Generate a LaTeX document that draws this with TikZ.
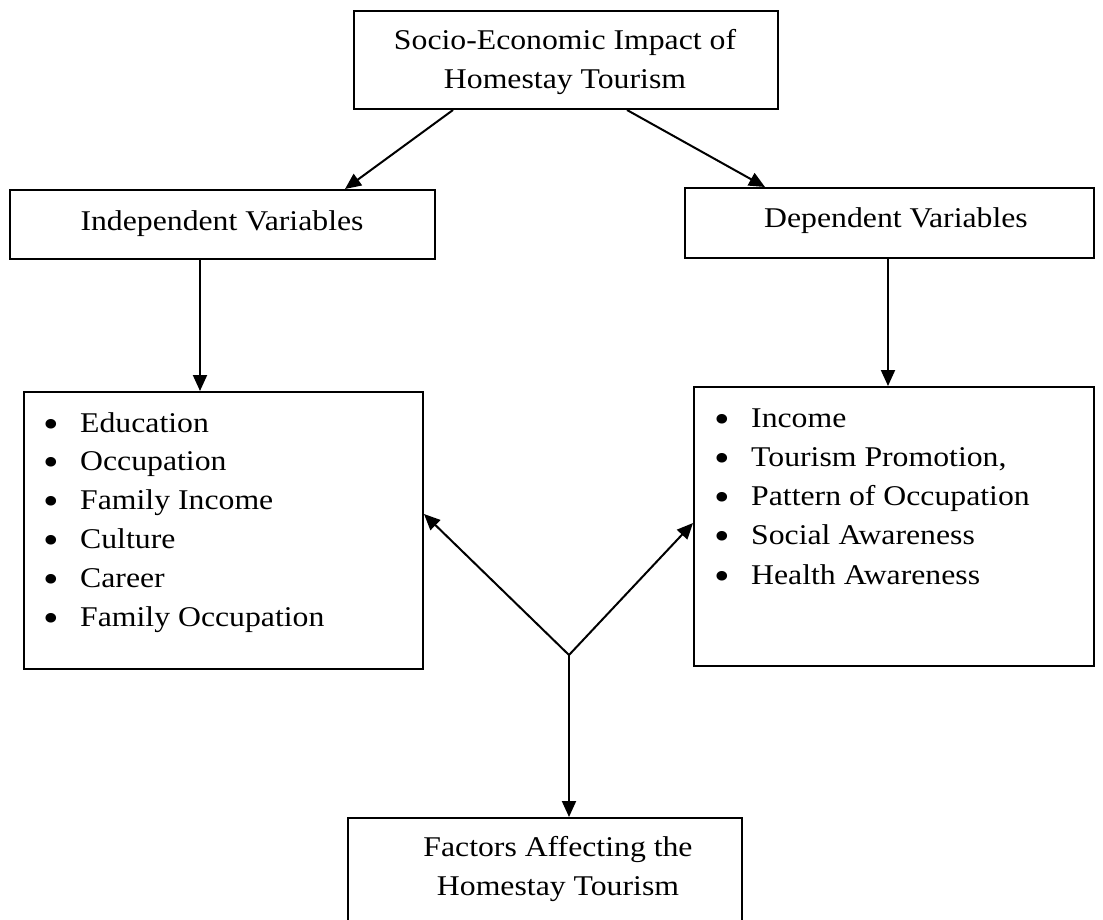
\documentclass[tikz,border=0pt]{standalone}
\usepackage{fontspec}
\setmainfont{Liberation Serif}[FakeStretch=1.11]
\usetikzlibrary{arrows.meta}
\begin{document}
\begin{tikzpicture}[x=1pt,y=-1pt,
  box/.style={draw, line width=2pt, rectangle, inner sep=0pt, anchor=north west},
  lbl/.style={font=\fontsize{28.6}{39}\selectfont, inner sep=0pt, anchor=base},
  item/.style={font=\fontsize{28.6}{39}\selectfont, inner sep=0pt, anchor=base west},
  bul/.style={font=\fontsize{40}{39}\selectfont, inner sep=0pt, anchor=base},
  conn/.style={line width=2pt, -{Triangle[length=16pt,width=14pt]}}]
\useasboundingbox (0,0) rectangle (1103,919);
% boxes
\node[box, minimum width=424pt, minimum height=98pt] (top) at (353,10) {};
\node[box, minimum width=425pt, minimum height=69pt] (ind) at (9,189) {};
\node[box, minimum width=409pt, minimum height=70pt] (dep) at (684,187) {};
\node[box, minimum width=399pt, minimum height=277pt] (indl) at (23,391) {};
\node[box, minimum width=400pt, minimum height=279pt] (depl) at (693,386) {};
\node[box, minimum width=394pt, minimum height=150pt] (fac) at (347,817) {};
% texts
\node[lbl] (t1) at (565,49) {Socio-Economic Impact of};
\node[lbl] (t2) at (565,88) {Homestay Tourism};
\node[lbl] (t3) at (222,230) {Independent Variables};
\node[lbl] (t4) at (896,227) {Dependent Variables};
\node[lbl] (t5) at (558,856) {Factors Affecting the};
\node[lbl] (t6) at (558,895) {Homestay Tourism};
\foreach \t [count=\i from 0] in {Education, Occupation, Family Income, Culture, Career, Family Occupation}{
  \node[bul] (lb\i) at (51,437+38.9*\i) {\textbullet};
  \node[item] (li\i) at (80,432+38.9*\i) {\t};
}
\foreach \t [count=\i from 0] in {Income, {Tourism Promotion,}, Pattern of Occupation, Social Awareness, Health Awareness}{
  \node[bul] (rb\i) at (722,432+39.25*\i) {\textbullet};
  \node[item] (ri\i) at (751,427+39.25*\i) {\t};
}
% connectors
\draw[conn] ([xshift=100pt]top.south west) -- ([xshift=336pt]ind.north west);
\draw[conn] ([xshift=274pt]top.south west) -- ([xshift=81pt]dep.north west);
\draw[conn] ([xshift=191pt]ind.south west) -- ([xshift=177pt]indl.north west);
\draw[conn] ([xshift=204pt]dep.south west) -- ([xshift=195pt]depl.north west);
\coordinate (j) at (569,655);
\draw[conn] (j) -- ([yshift=16.5pt]indl.east);
\draw[conn] (j) -- ([yshift=3.5pt]depl.west);
\draw[conn] (j) -- ([xshift=222pt]fac.north west);
\end{tikzpicture}
\end{document}
